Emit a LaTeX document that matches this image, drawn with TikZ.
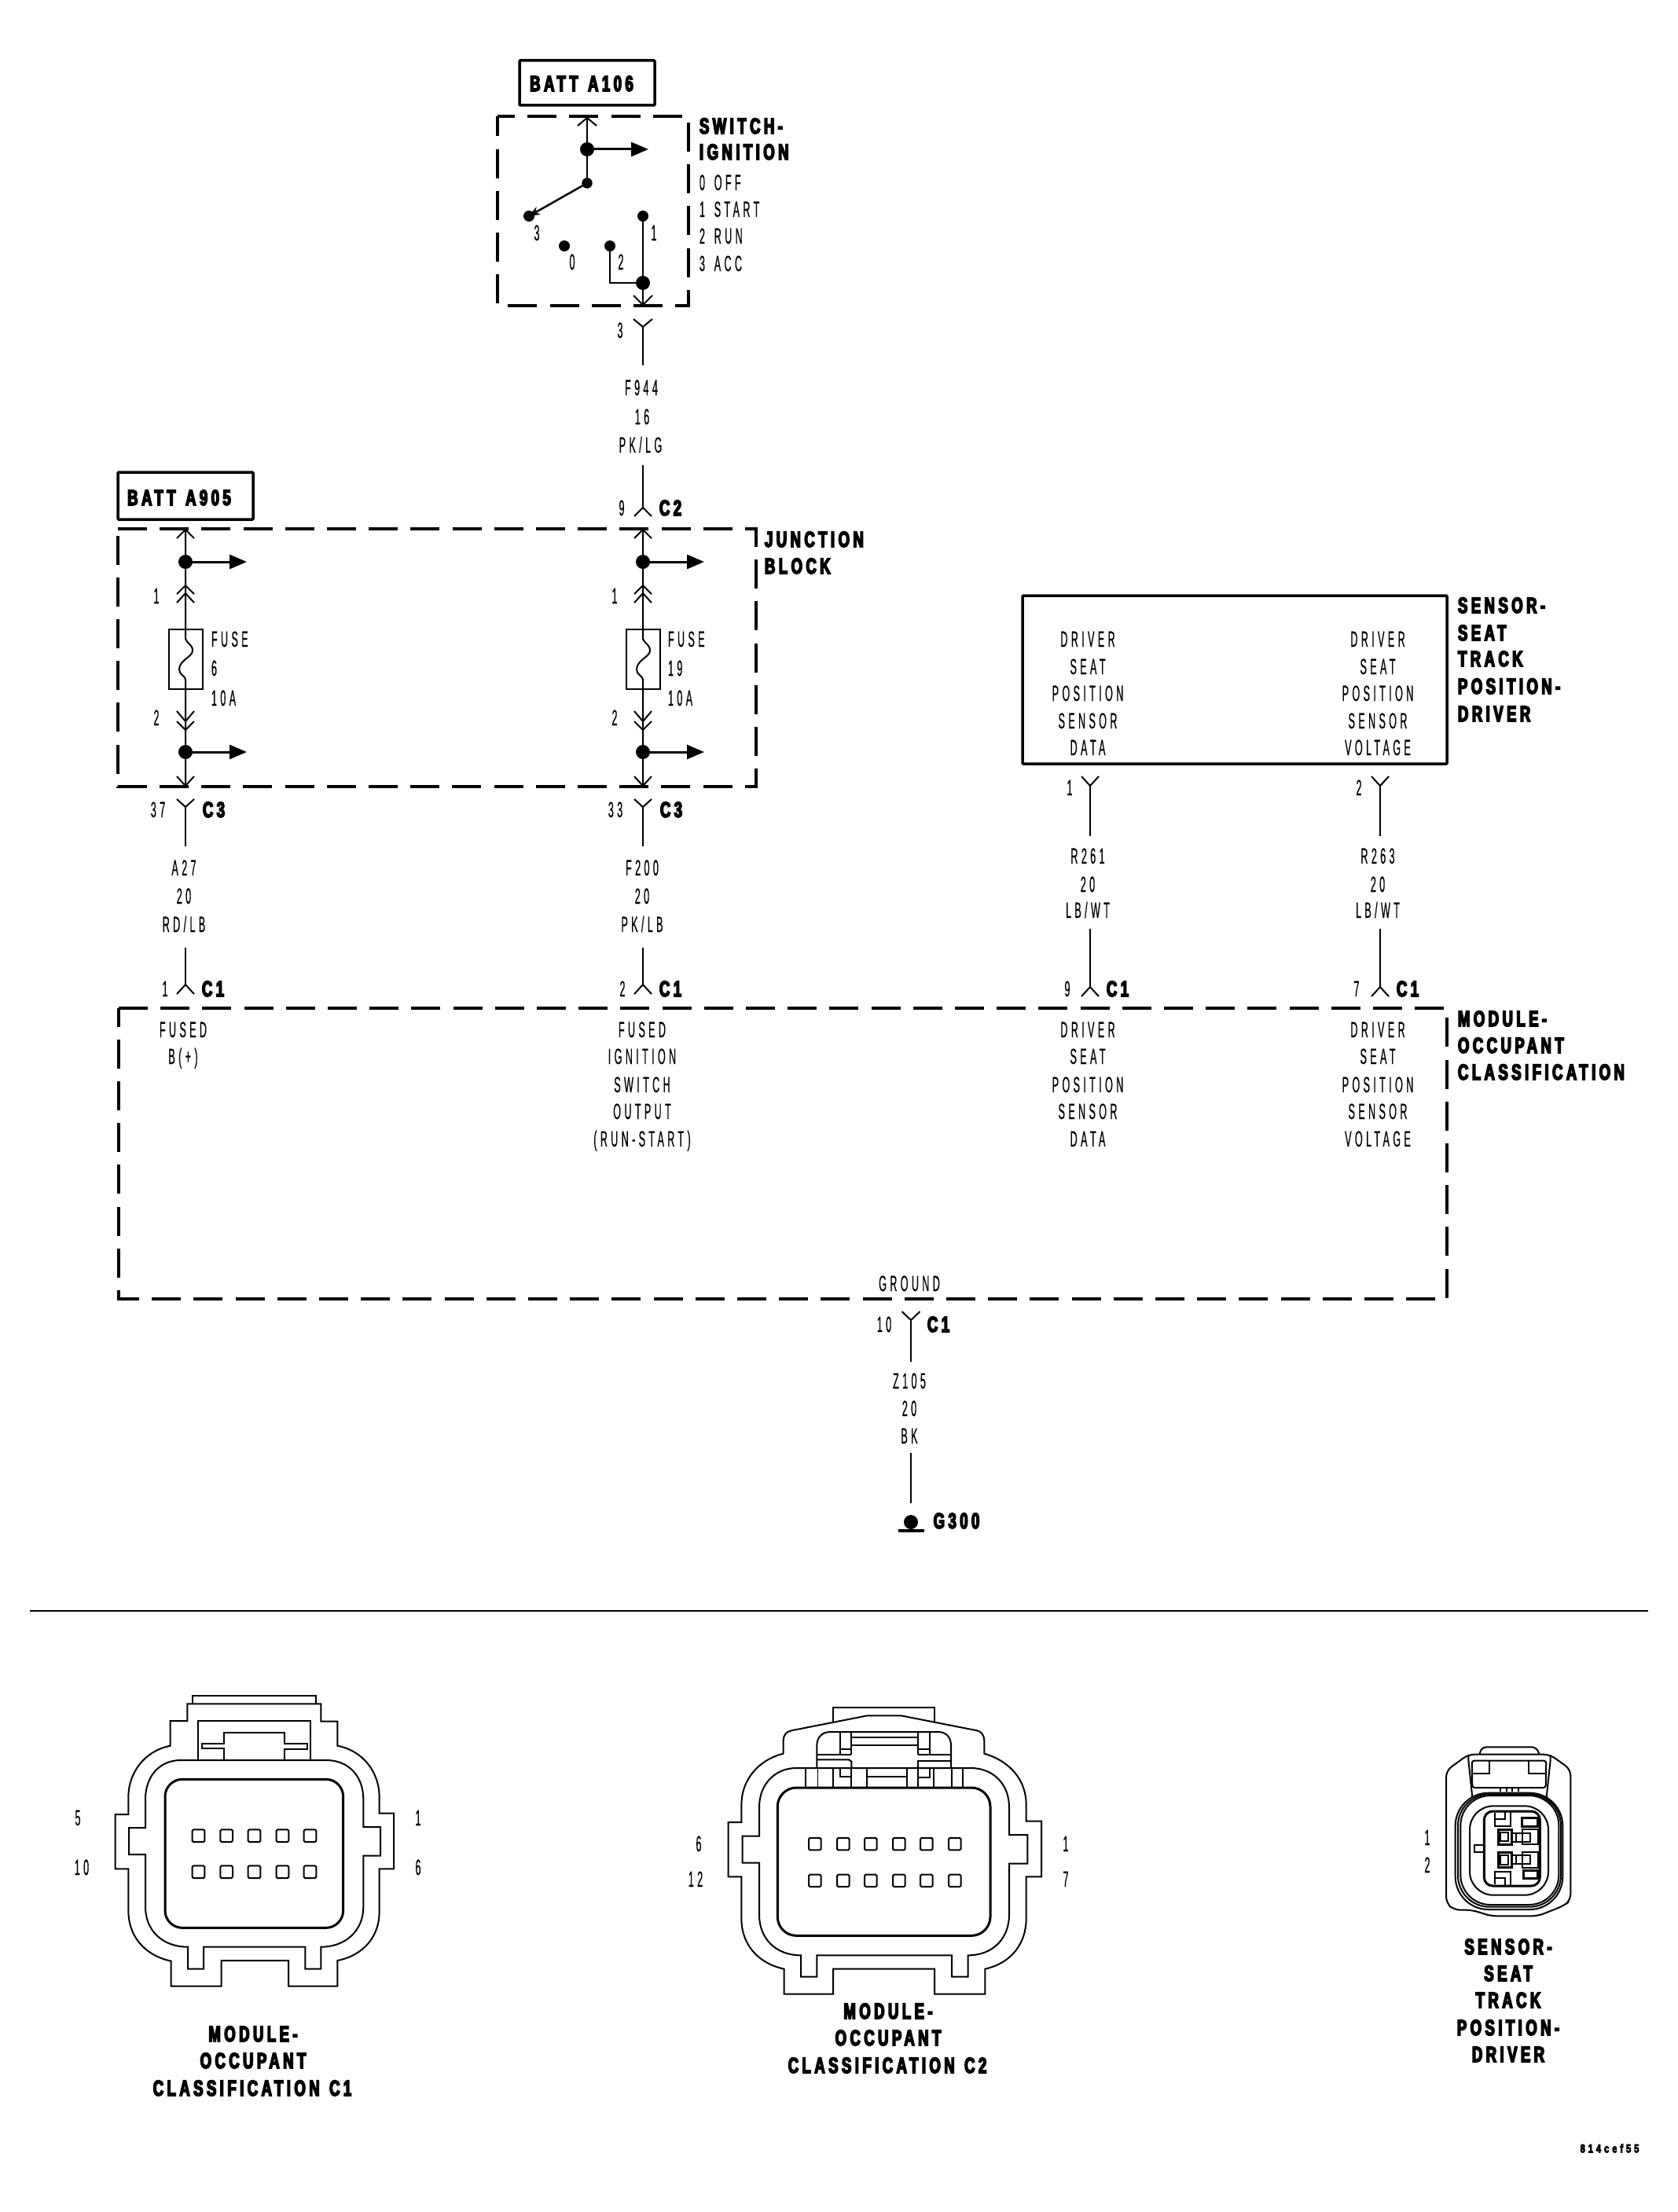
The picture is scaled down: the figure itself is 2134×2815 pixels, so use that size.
\documentclass[tikz,border=0pt]{standalone}
\usepackage{fontspec}
\usetikzlibrary{arrows.meta}
\newfontfamily\tfam[FakeStretch=0.45,LetterSpace=15.5,FakeBold=0.4,WordSpace=1.5]{Liberation Sans}
\newfontfamily\bfam[BoldFeatures={FakeStretch=0.66,FakeBold=5.5,LetterSpace=16,WordSpace=1.3}]{Liberation Sans}
\newfontfamily\cfam[BoldFeatures={FakeStretch=0.75,FakeBold=5,LetterSpace=26}]{Liberation Sans}
\newcommand\tsty{\fontsize{28}{30}\tfam}
\newcommand\bsty{\fontsize{28}{30}\bfam\bfseries}
\newcommand\csty{\fontsize{15}{17}\cfam\bfseries}
\tikzset{
 tx/.style={inner sep=0pt,outer sep=0pt,anchor=base,yshift=-10pt,font=\tsty},
 bx/.style={inner sep=0pt,outer sep=0pt,anchor=base,yshift=-10pt,font=\bsty},
 wire/.style={line width=2pt},
 branch/.style={line width=3pt,-{Triangle[length=22pt,width=18pt]}},
 dashbox/.style={line width=4pt,dash pattern=on 37pt off 16.2pt},
 solidbox/.style={line width=3.5pt,rounded corners=1pt},
 bigdot/.style={circle,fill=black,inner sep=0pt,minimum size=18pt},
 smalldot/.style={circle,fill=black,inner sep=0pt,minimum size=13.5pt},
 outl/.style={line width=2pt,line join=miter},
 inn/.style={line width=3pt},
 pin/.style={line width=2pt,rounded corners=1.5pt},
 thin line/.style={line width=1.2pt},
}
\newcommand\T[4]{\node[tx] (#1) at (#2,#3) {#4};}
\newcommand\TL[4]{\node[tx,anchor=base west] (#1) at (#2,#3) {#4};}
\newcommand\B[4]{\node[bx] (#1) at (#2,#3) {#4};}
\newcommand\BL[4]{\node[bx,anchor=base west] (#1) at (#2,#3) {#4};}
% chevrons: tip at (x,y), legs below (U) or above (D)
\newcommand\ChU[4]{\draw[wire] ({#1-#3},{#2+#4}) -- (#1,#2) -- ({#1+#3},{#2+#4});}
\newcommand\ChD[4]{\draw[wire] ({#1-#3},{#2-#4}) -- (#1,#2) -- ({#1+#3},{#2-#4});}
% junction block column
\newcommand\Jcol[5]{%
 \coordinate (#1tip) at (#2,674);
 \coordinate (#1bot) at (#2,1000);
 \coordinate (#1fa) at (#2,813);
 \coordinate (#1fb) at (#2,865);
 \coordinate (#1ara) at ({#2+78},715);
 \coordinate (#1arb) at ({#2+78},957);
 \node[bigdot] (#1d1) at (#2,715) {};
 \node[bigdot] (#1d2) at (#2,957) {};
 \draw[wire] (#1tip) -- (#1d1.center) -- (#1fa)
   .. controls ({#2+2},819) and ({#2+9},820) .. ({#2+9},828)
   .. controls ({#2+9},836) and ({#2-8},840) .. ({#2-8},852)
   .. controls ({#2-8},859) and ({#2},860) .. (#1fb)
   -- (#1d2.center) -- (#1bot);
 \draw[branch] (#1d1.center) -- (#1ara);
 \draw[branch] (#1d2.center) -- (#1arb);
 \ChU{#2}{674}{11}{11}
 \ChU{#2}{745}{11}{11}
 \ChU{#2}{755}{11}{12}
 \ChD{#2}{918}{11}{13}
 \ChD{#2}{929}{11}{11}
 \ChD{#2}{1000}{11}{12}
 \draw[wire] ({#2-21.5},801) rectangle ({#2+21.5},877);
 \T{#1p1}{#3}{758}{1}
 \T{#1p2}{#3}{913}{2}
 \TL{#1fu}{#4}{813}{FUSE}
 \TL{#1n}{#4}{850}{#5}
 \TL{#1am}{#4}{888}{10A}
}
\begin{document}
\begin{tikzpicture}[x=1pt,y=-1pt]
\useasboundingbox (0,0) rectangle (2134,2815);
\fill[white] (0,0) rectangle (2134,2815);

% ---------- switch
\node[solidbox,draw,minimum width=172pt,minimum height=57pt,inner sep=0pt] (battA) at (747,105.5) {};
\B{battAt}{740}{106}{BATT A106}
\draw[dashbox,dash phase=15pt] (633,148) -- (876,148) -- (876,389) -- (633,389) -- cycle;
\coordinate (swtop) at (747,150);
\node[bigdot] (swd1) at (747,190) {};
\node[smalldot] (swd2) at (747,233) {};
\node[circle,fill=black,inner sep=0pt,minimum size=14pt] (sw3) at (673,275) {};
\node[circle,fill=black,inner sep=0pt,minimum size=14pt] (sw0) at (718,313) {};
\node[circle,fill=black,inner sep=0pt,minimum size=14pt] (sw2) at (776,313) {};
\node[circle,fill=black,inner sep=0pt,minimum size=14pt] (sw1) at (818,275) {};
\node[bigdot] (swd3) at (818,360) {};
\coordinate (swara) at (825,190);
\coordinate (swbot) at (818,388);
\coordinate (swkn) at (776,360);
\draw[wire] (swtop) -- (swd1.center) -- (swd2.center);
\draw[branch] (swd1.center) -- (swara);
\draw[line width=2.5pt,-{Stealth[length=14pt,width=11pt]}] (swd2.center) -- (sw3.center);
\draw[wire] (sw1.center) -- (swd3.center) -- (swbot);
\draw[wire] (sw2.center) -- (swkn) -- (swd3.center);
\ChU{747}{150}{12}{10}
\ChD{818}{388}{12}{12}
\T{sw3t}{683}{296}{3}
\T{sw0t}{728}{333}{0}
\T{sw2t}{790}{333}{2}
\T{sw1t}{832}{296}{1}
\BL{swl1}{890}{160}{SWITCH-}
\BL{swl2}{890}{193}{IGNITION}
\TL{swo0}{890}{232}{0 OFF}
\TL{swo1}{890}{266}{1 START}
\TL{swo2}{890}{300}{2 RUN}
\TL{swo3}{890}{335}{3 ACC}
% F944 wire
\coordinate (fa) at (818,416);
\coordinate (fb) at (818,465);
\coordinate (fc) at (818,592);
\coordinate (fd) at (818,646);
\draw[wire] (fa) -- (fb);
\draw[wire] (fc) -- (fd);
\ChD{818}{416}{12}{10}
\ChU{818}{646}{11}{11}
\T{f3}{789}{420}{3}
\T{f1}{816}{493}{F944}
\T{f2}{817}{530}{16}
\T{f4}{815}{566}{PK/LG}
\T{f9}{791}{646}{9}
\B{fc2}{853}{646}{C2}

% ---------- junction block
\node[solidbox,draw,minimum width=172pt,minimum height=60pt,inner sep=0pt] (battB) at (236,631) {};
\B{battBt}{228}{633}{BATT A905}
\draw[dashbox] (150,673) -- (962,673) -- (962,1001) -- (150,1001) -- cycle;
\Jcol{ja}{236}{199}{269}{6}
\Jcol{jb}{818}{782}{850}{19}
\BL{jl1}{973}{686}{JUNCTION}
\BL{jl2}{973}{720}{BLOCK}

% wires below junction
\coordinate (ax1) at (236,1027);
\coordinate (ax2) at (236,1077);
\coordinate (ax3) at (236,1206);
\coordinate (ax4) at (236,1253);
\draw[wire] (ax1) -- (ax2);
\draw[wire] (ax3) -- (ax4);
\ChD{236}{1027}{11}{10}
\ChU{236}{1253}{11}{12}
\T{a37}{201}{1030}{37}
\B{ac3}{272}{1030}{C3}
\T{aw1}{234}{1104}{A27}
\T{aw2}{234}{1140}{20}
\T{aw3}{234}{1176}{RD/LB}
\T{ap1}{210}{1258}{1}
\B{ac1}{271}{1258}{C1}
\coordinate (bx1) at (818,1027);
\coordinate (bx2) at (818,1077);
\coordinate (bx3) at (818,1206);
\coordinate (bx4) at (818,1253);
\draw[wire] (bx1) -- (bx2);
\draw[wire] (bx3) -- (bx4);
\ChD{818}{1027}{11}{10}
\ChU{818}{1253}{11}{12}
\T{b33}{783}{1030}{33}
\B{bc3}{854}{1030}{C3}
\T{bw1}{817}{1104}{F200}
\T{bw2}{817}{1140}{20}
\T{bw3}{817}{1176}{PK/LB}
\T{bp2}{792}{1258}{2}
\B{bc1}{853}{1258}{C1}

% ---------- sensor box
\node[solidbox,draw,minimum width=540pt,minimum height=214pt,inner sep=0pt] (sbox) at (1571,865) {};
\BL{sl1}{1855}{770}{SENSOR-}
\BL{sl2}{1855}{805}{SEAT}
\BL{sl3}{1855}{838}{TRACK}
\BL{sl4}{1855}{873}{POSITION-}
\BL{sl5}{1855}{908}{DRIVER}
\T{sa1}{1384}{813}{DRIVER}
\T{sa2}{1384}{848}{SEAT}
\T{sa3}{1384}{882}{POSITION}
\T{sa4}{1384}{917}{SENSOR}
\T{sa5}{1384}{951}{DATA}
\T{sb1}{1753}{813}{DRIVER}
\T{sb2}{1753}{848}{SEAT}
\T{sb3}{1753}{882}{POSITION}
\T{sb4}{1753}{917}{SENSOR}
\T{sb5}{1753}{951}{VOLTAGE}
\coordinate (cx1) at (1387,1000);
\coordinate (cx2) at (1387,1064);
\coordinate (cx3) at (1387,1182);
\coordinate (cx4) at (1387,1256);
\draw[wire] (cx1) -- (cx2);
\draw[wire] (cx3) -- (cx4);
\ChD{1387}{1000}{11}{12}
\ChU{1387}{1256}{11}{12}
\T{cp1}{1361}{1002}{1}
\T{cw1}{1384}{1089}{R261}
\T{cw2}{1384}{1125}{20}
\T{cw3}{1384}{1158}{LB/WT}
\T{cp9}{1358}{1258}{9}
\B{cc1}{1422}{1258}{C1}
\coordinate (dx1) at (1756,1000);
\coordinate (dx2) at (1756,1064);
\coordinate (dx3) at (1756,1182);
\coordinate (dx4) at (1756,1256);
\draw[wire] (dx1) -- (dx2);
\draw[wire] (dx3) -- (dx4);
\ChD{1756}{1000}{11}{12}
\ChU{1756}{1256}{11}{12}
\T{dp2}{1729}{1002}{2}
\T{dw1}{1753}{1089}{R263}
\T{dw2}{1753}{1125}{20}
\T{dw3}{1753}{1158}{LB/WT}
\T{dp7}{1726}{1258}{7}
\B{dc1}{1791}{1258}{C1}

% ---------- module
\draw[dashbox] (151,1283) -- (1841,1283) -- (1841,1653) -- (151,1653) -- cycle;
\BL{ml1}{1855}{1296}{MODULE-}
\BL{ml2}{1855}{1330}{OCCUPANT}
\BL{ml3}{1855}{1364}{CLASSIFICATION}
\T{m11}{233}{1310}{FUSED}
\T{m12}{233}{1344}{B(+)}
\T{m21}{817}{1310}{FUSED}
\T{m22}{817}{1344}{IGNITION}
\T{m23}{817}{1380}{SWITCH}
\T{m24}{817}{1414}{OUTPUT}
\T{m25}{817}{1449}{(RUN-START)}
\T{m31}{1384}{1310}{DRIVER}
\T{m32}{1384}{1344}{SEAT}
\T{m33}{1384}{1380}{POSITION}
\T{m34}{1384}{1414}{SENSOR}
\T{m35}{1384}{1449}{DATA}
\T{m41}{1753}{1310}{DRIVER}
\T{m42}{1753}{1344}{SEAT}
\T{m43}{1753}{1380}{POSITION}
\T{m44}{1753}{1414}{SENSOR}
\T{m45}{1753}{1449}{VOLTAGE}
\T{mg}{1157}{1633}{GROUND}

% ---------- ground wire
\coordinate (gx1) at (1159,1680);
\coordinate (gx2) at (1159,1733);
\coordinate (gx3) at (1159,1849);
\coordinate (gx4) at (1159,1913);
\draw[wire] (gx1) -- (gx2);
\draw[wire] (gx3) -- (gx4);
\ChD{1159}{1680}{11.5}{11}
\T{g10}{1125}{1685}{10}
\B{gc1}{1194}{1685}{C1}
\T{gw1}{1157}{1757}{Z105}
\T{gw2}{1157}{1792}{20}
\T{gw3}{1157}{1827}{BK}
\node[bigdot] (gdot) at (1159,1937) {};
\coordinate (gba) at (1143,1948);
\coordinate (gbb) at (1176,1948);
\draw[line width=3.5pt] (gba) -- (gbb);
\B{g300}{1217}{1935}{G300}

% rule
\coordinate (ra) at (38,2050);
\coordinate (rb) at (2097,2050);
\draw[line width=1.6pt] (ra) -- (rb);

% ---------- connector C1
\begin{scope}[shift={(100,2130)},x=0.33333pt,y=-0.33333pt]
\draw[outl] (435,115) -- (435,85) -- (905,85) -- (905,115);
\draw[outl] (415,180) -- (415,115) -- (925,115) -- (925,182) -- (988,182) -- (988,275)
 .. controls (1090,295) and (1148,380) .. (1148,470) -- (1148,533) -- (1203,533) -- (1203,745) -- (1148,745) -- (1148,910)
 .. controls (1148,1000) and (1090,1075) .. (988,1095) -- (988,1193) -- (801,1193) -- (801,1095) -- (545,1095) -- (545,1193) -- (353,1193) -- (353,1097)
 .. controls (250,1075) and (190,1000) .. (190,905) -- (190,745) -- (140,745) -- (140,537) -- (190,537) -- (190,470)
 .. controls (190,380) and (250,295) .. (350,275) -- (350,180) -- cycle;
\draw[outl] (1087,585) -- (1152,585) -- (1152,695) -- (1087,695) -- (1087,890)
 .. controls (1087,980) and (1020,1043) .. (925,1043) -- (925,1127) -- (865,1127) -- (865,1043) -- (477,1043) -- (477,1127) -- (417,1127) -- (417,1043)
 .. controls (320,1043) and (255,980) .. (255,890) -- (255,690) -- (192,690) -- (192,588) -- (255,588) -- (255,480)
 .. controls (255,390) and (310,330) .. (390,330) -- (945,330)
 .. controls (1030,330) and (1087,390) .. (1087,480) -- cycle;
\draw[inn,rounded corners=22pt] (330,403) rectangle (1010,970);
\draw[outl] (455,330) -- (455,180) -- (885,180) -- (885,330);
\draw[outl] (555,330) -- (555,285) -- (470,285) -- (470,268) -- (555,268) -- (555,225) -- (787,225) -- (787,266) -- (873,266) -- (873,288) -- (787,288) -- (787,330);
\foreach \px in {434,541,647,755,860}{
 \draw[pin] (\px,595) rectangle ++(47,47);
 \draw[pin] (\px,733) rectangle ++(47,47);
}
\end{scope}
\T{c1l5}{99}{2313}{5}
\T{c1l10}{104}{2376}{10}
\T{c1l1}{532}{2313}{1}
\T{c1l6}{532}{2376}{6}
\B{c1t1}{322}{2588}{MODULE-}
\B{c1t2}{322}{2622}{OCCUPANT}
\B{c1t3}{321}{2657}{CLASSIFICATION C1}

% ---------- connector C2
\begin{scope}[shift={(880,2140)},x=0.33333pt,y=-0.33333pt]
\draw[outl] (540,155) -- (540,98) -- (928,98) -- (928,155);
\draw[outl] (350,275) -- (350,225) .. controls (350,205) and (362,190) .. (380,187) -- (670,130) -- (800,130) -- (1090,187)
 .. controls (1105,190) and (1117,205) .. (1117,225) -- (1117,275)
 .. controls (1220,305) and (1277,380) .. (1277,470) -- (1277,533) -- (1335,533) -- (1335,745) -- (1277,745) -- (1277,905)
 .. controls (1277,1000) and (1220,1075) .. (1120,1097) -- (1120,1193) -- (927,1193) -- (927,1097) -- (540,1097) -- (540,1193) -- (353,1193) -- (353,1097)
 .. controls (250,1075) and (190,1000) .. (190,905) -- (190,745) -- (140,745) -- (140,537) -- (190,537) -- (190,470)
 .. controls (190,380) and (250,300) .. (350,275);
\draw[outl] (1212,585) -- (1282,585) -- (1282,695) -- (1212,695) -- (1212,890)
 .. controls (1212,980) and (1150,1045) .. (1055,1045) -- (1055,1127) -- (993,1127) -- (993,1045) -- (478,1045) -- (478,1127) -- (417,1127) -- (417,1045)
 .. controls (320,1045) and (258,980) .. (258,890) -- (258,692) -- (194,692) -- (194,590) -- (258,590) -- (258,480)
 .. controls (258,390) and (320,330) .. (400,330) -- (1065,330)
 .. controls (1150,330) and (1212,390) .. (1212,480) -- cycle;
\draw[inn,rounded corners=24pt] (328,405) rectangle (1140,970);
% latch
\draw[outl] (478,330) -- (478,245) .. controls (478,210) and (500,192) .. (530,192) -- (940,192) .. controls (970,192) and (990,210) .. (990,245) -- (990,330);
\draw[outl] (567,192) -- (567,280);
\draw[outl] (610,192) -- (610,280);
\draw[outl] (863,192) -- (863,280);
\draw[outl] (908,192) -- (908,280);
\draw[outl] (478,280) -- (610,280);
\draw[outl] (863,280) -- (990,280);
\draw[outl] (610,212) -- (863,212);
\draw[thin line] (610,243) -- (863,243);
\draw[outl] (567,258) -- (610,258);
\draw[outl] (863,258) -- (908,258);
\draw[outl] (478,298) -- (600,298) -- (610,305) -- (610,330);
\draw[outl] (863,330) -- (863,302) -- (990,302);
\foreach \vx in {435,540,610,668,822,863,925,992,1035}{\draw[outl] (\vx,330) -- (\vx,405);}
\draw[thin line] (482,330) -- (482,405);
\draw[outl] (670,362) -- (822,362);
\draw[outl] (567,330) -- (567,362) -- (610,362);
\draw[outl] (910,330) -- (910,365) -- (865,365);
\foreach \px in {447,555,660,768,873,981}{
 \draw[pin] (\px,597) rectangle ++(47,46);
 \draw[pin] (\px,737) rectangle ++(47,46);
}
\end{scope}
\T{c2l6}{889}{2346}{6}
\T{c2l12}{885}{2391}{12}
\T{c2l1}{1356}{2346}{1}
\T{c2l7}{1356}{2391}{7}
\B{c2t1}{1130}{2559}{MODULE-}
\B{c2t2}{1130}{2593}{OCCUPANT}
\B{c2t3}{1129}{2628}{CLASSIFICATION C2}

% ---------- sensor connector
\begin{scope}[shift={(1800,2200)},x=0.33333pt,y=-0.33333pt]
\draw[outl,rounded corners=8pt] (120,160) -- (205,98) -- (515,98) -- (595,155) -- (595,655) -- (570,675) -- (470,715) -- (290,715) -- (220,692) -- (150,692) -- (120,665) -- cycle;
\draw[outl,rounded corners=6pt] (248,97) -- (255,70) -- (465,70) -- (475,97);
\draw[outl] (205,100) -- (205,120) -- (220,262);
\draw[outl] (518,100) -- (518,120) -- (503,262);
\draw[outl,rounded corners=3pt] (220,225) -- (218,122) -- (502,122) -- (500,225) -- cycle;
\draw[outl] (285,122) -- (285,170) -- (222,170);
\draw[outl] (435,122) -- (435,170) -- (500,170);
\draw[outl] (328,225) -- (328,240);
\draw[outl] (395,225) -- (395,240);
\draw[outl] (350,225) -- (350,240);
\draw[outl] (372,225) -- (372,240);
\draw[outl,rounded corners=42pt] (155,245) rectangle (565,690);
\draw[outl,rounded corners=40pt] (165,250) rectangle (558,680);
\draw[outl,rounded corners=38pt] (175,255) rectangle (550,672);
\draw[outl,rounded corners=30pt] (210,295) rectangle (510,635);
\draw[inn,rounded corners=11pt] (265,315) rectangle (478,600);
\draw[outl] (265,443) -- (228,443) -- (228,470) -- (265,470);
\draw[outl] (305,320) -- (305,345) -- (345,345) -- (345,318);
\draw[outl] (365,318) -- (365,372) -- (305,372) -- (305,345);
\draw[outl] (305,595) -- (305,570) -- (345,570) -- (345,597);
\draw[outl] (365,597) -- (365,545) -- (305,545) -- (305,570);
\draw[inn] (318,385) rectangle (370,442);
\draw[outl] (328,395) rectangle (358,430);
\draw[inn] (318,472) rectangle (370,530);
\draw[outl] (328,482) rectangle (358,518);
\draw[outl] (370,398) rectangle (440,432);
\draw[outl] (370,482) rectangle (440,516);
\draw[outl] (388,398) -- (388,432);
\draw[outl] (410,398) -- (410,432);
\draw[outl] (388,482) -- (388,516);
\draw[outl] (410,482) -- (410,516);
\draw[outl] (410,385) rectangle (470,442);
\draw[outl] (410,472) rectangle (470,530);
\draw[inn] (410,372) -- (410,340) -- (470,340) -- (470,372) -- cycle;
\draw[inn] (415,540) -- (415,570) -- (470,570) -- (470,540) -- cycle;
\end{scope}
\T{sxl1}{1816}{2338}{1}
\T{sxl2}{1816}{2373}{2}
\B{sxt1}{1919}{2477}{SENSOR-}
\B{sxt2}{1919}{2511}{SEAT}
\B{sxt3}{1919}{2545}{TRACK}
\B{sxt4}{1919}{2580}{POSITION-}
\B{sxt5}{1919}{2614}{DRIVER}

\node[inner sep=0pt,font=\csty] (code) at (2048,2734) {814cef55};
\end{tikzpicture}
\end{document}
